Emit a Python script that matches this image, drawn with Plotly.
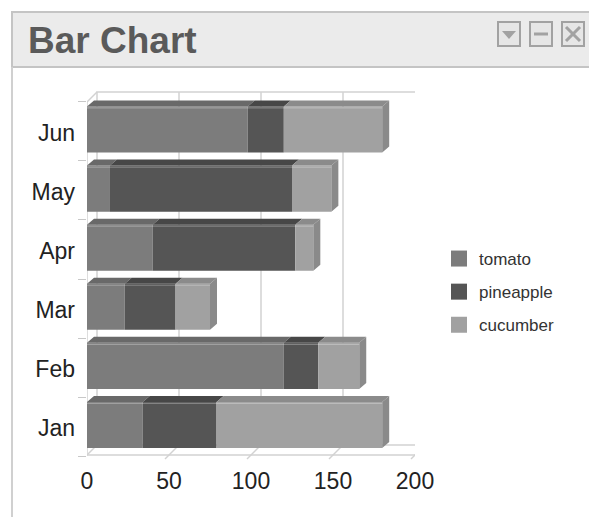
import plotly.graph_objects as go

months = ["Jan", "Feb", "Mar", "Apr", "May", "Jun"]
tomato = [34, 120, 23, 40, 14, 98]
pineapple = [45, 21, 31, 87, 111, 22]
cucumber = [101, 25, 21, 11, 24, 60]
x_ticks = [0, 50, 100, 150, 200]

series = [
    ("tomato", tomato, "#7c7c7c", "#696969"),
    ("pineapple", pineapple, "#555555", "#474747"),
    ("cucumber", cucumber, "#a1a1a1", "#8b8b8b"),
]

W, H = 589, 517
ML, MT = 87, 90
PW, PH = 328, 372
MR, MB = W - ML - PW, H - MT - PH

# pixel scale of the axes (used for the fake 3d depth)
PX_X = PW / 200.0
PX_Y = 59.1
Y_RANGE = [-(MT + PH - 425) / PX_Y, (425 - MT) / PX_Y]

DX, DY = 10 / PX_X, 10 / PX_Y          # floor / back wall depth
BDX, BDY = 7 / PX_X, 6 / PX_Y          # bar depth
BW = 0.78
FLOOR_F = -(455 - 425) / PX_Y
FLOOR_B = FLOOR_F + DY
TOP = (425 - 92) / PX_Y
GRID = "#d2d2d2"


def px(x):
    return (x - ML) / PW


def py(y):
    return (MT + PH - y) / PH


fig = go.Figure()

base = [0] * len(months)
for name, vals, front, top in series:
    fig.add_trace(go.Bar(
        y=list(range(len(months))), x=vals, base=base, orientation="h",
        width=BW, marker=dict(color=front, line=dict(width=0)),
        name=name, showlegend=False,
    ))
    xs, ys = [], []
    for i, v in enumerate(vals):
        x0, x1 = base[i], base[i] + v
        yt = i + BW / 2
        xs += [x0, x1, x1 + BDX, x0 + BDX, x0, None]
        ys += [yt, yt, yt + BDY, yt + BDY, yt, None]
    fig.add_trace(go.Scatter(
        x=xs, y=ys, mode="lines", fill="toself", fillcolor=top,
        line=dict(width=0), showlegend=False, hoverinfo="skip",
    ))
    base = [b + v for b, v in zip(base, vals)]

# right end faces of the stacks
xs, ys = [], []
for i, t in enumerate(base):
    yb, yt = i - BW / 2, i + BW / 2
    xs += [t, t, t + BDX, t + BDX, t, None]
    ys += [yb, yt, yt + BDY, yb + BDY, yb, None]
fig.add_trace(go.Scatter(
    x=xs, y=ys, mode="lines", fill="toself", fillcolor="#8a8a8a",
    line=dict(width=0), showlegend=False, hoverinfo="skip",
))

# soft highlight along the front top edge
xs, ys = [], []
for i, t in enumerate(base):
    yt = i + BW / 2 - 1.5 / PX_Y
    xs += [0, t, None]
    ys += [yt, yt, None]
fig.add_trace(go.Scatter(
    x=xs, y=ys, mode="lines", line=dict(color="rgba(255,255,255,0.28)", width=1.2),
    showlegend=False, hoverinfo="skip",
))

# legend entries
for k, (name, vals, front, top) in enumerate(series):
    fig.add_trace(go.Scatter(
        x=[None], y=[None], mode="markers", name=name,
        marker=dict(symbol="square", size=16, color=front),
        legendgroup=name,
    ))

shapes = []
line = dict(color=GRID, width=1.5)
shapes.append(dict(type="rect", x0=DX, x1=200 + DX, y0=FLOOR_B, y1=TOP,
                   line=line, layer="below"))
for v in x_ticks[1:-1]:
    shapes.append(dict(type="line", x0=v + DX, x1=v + DX, y0=FLOOR_B, y1=TOP,
                       line=line, layer="below"))
shapes.append(dict(type="line", x0=0, x1=200, y0=FLOOR_F, y1=FLOOR_F,
                   line=line, layer="below"))
for v in x_ticks:
    shapes.append(dict(type="line", x0=v - DX * 0.4, x1=v + DX,
                       y0=FLOOR_F - DY * 0.4, y1=FLOOR_B,
                       line=line, layer="below"))
shapes.append(dict(type="line", x0=0, x1=0, y0=FLOOR_F, y1=TOP - DY,
                   line=line, layer="below"))
shapes.append(dict(type="line", x0=0, x1=DX, y0=TOP - DY, y1=TOP,
                   line=line, layer="below"))

# window chrome
paper = dict(xref="paper", yref="paper")
shapes.append(dict(type="rect", x0=px(12), x1=px(620), y0=py(12), y1=py(67),
                   fillcolor="#ebebeb", line=dict(color="#c4c4c4", width=2),
                   layer="below", **paper))
shapes.append(dict(type="line", x0=px(12), x1=px(12), y0=py(67), y1=py(530),
                   line=dict(color="#d0d0d0", width=2), layer="below", **paper))
for x0 in (498, 530, 562):
    shapes.append(dict(type="rect", x0=px(x0), x1=px(x0 + 22), y0=py(22), y1=py(46),
                       fillcolor="#e6e6e6", line=dict(color="#a2a2a2", width=2),
                       **paper))
shapes.append(dict(type="path",
                   path="M %f %f L %f %f L %f %f Z" % (px(502), py(31), px(516), py(31), px(509), py(39)),
                   fillcolor="#a2a2a2", line=dict(width=0), **paper))
shapes.append(dict(type="line", x0=px(534), x1=px(548), y0=py(34), y1=py(34),
                   line=dict(color="#a2a2a2", width=3), **paper))
shapes.append(dict(type="line", x0=px(566), x1=px(580), y0=py(27), y1=py(41),
                   line=dict(color="#a2a2a2", width=3), **paper))
shapes.append(dict(type="line", x0=px(566), x1=px(580), y0=py(41), y1=py(27),
                   line=dict(color="#a2a2a2", width=3), **paper))

fig.update_layout(
    width=W, height=H, autosize=False,
    margin=dict(l=ML, r=MR, t=MT, b=MB),
    paper_bgcolor="white", plot_bgcolor="white",
    barmode="overlay",
    font=dict(family="Liberation Sans, Arial, sans-serif", color="#222222"),
    shapes=shapes,
    annotations=[dict(
        text="<b>Bar Chart</b>", x=px(26), y=py(41), xanchor="left", yanchor="middle",
        showarrow=False, font=dict(size=37, color="#5a5a5a"), **paper,
    )],
    legend=dict(
        x=px(439), y=py(241), xanchor="left", yanchor="top",
        font=dict(size=17, color="#333333"), tracegroupgap=8,
        itemsizing="trace", bgcolor="rgba(0,0,0,0)",
    ),
    xaxis=dict(
        range=[0, 200], tickvals=x_ticks, showgrid=False, zeroline=False,
        showline=False, ticks="", tickfont=dict(size=23), ticklabelstandoff=3,
        fixedrange=True,
    ),
    yaxis=dict(
        range=Y_RANGE, tickvals=[i - 0.05 for i in range(len(months))],
        ticktext=months, showgrid=False, zeroline=False, showline=False,
        ticks="", tickfont=dict(size=23), ticklabelstandoff=11,
        minor=dict(tickvals=[i - 0.53 for i in range(len(months) + 1)],
                   ticks="outside", ticklen=8, tickcolor="#c8c8c8", showgrid=False),
        fixedrange=True,
    ),
)

fig.write_html(
    "out.html",
    config={"displayModeBar": False},
    post_script="document.body.style.margin='0';document.body.style.overflow='hidden';",
)
